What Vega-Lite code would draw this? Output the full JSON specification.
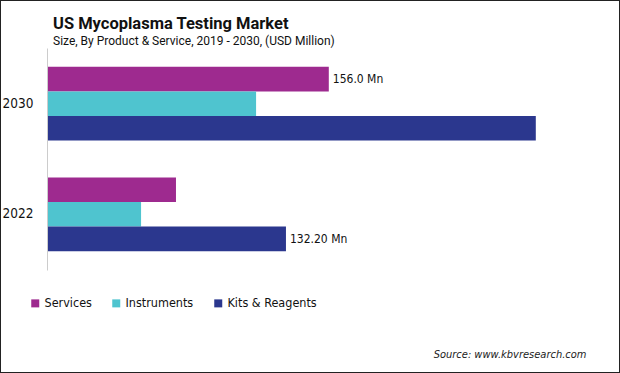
{
  "$schema": "https://vega.github.io/schema/vega-lite/v6.json",
  "width": 620,
  "height": 373,
  "padding": 0,
  "autosize": {"type": "none"},
  "background": "white",
  "config": {"view": {"stroke": "#222222", "strokeWidth": 2, "fill": "white"}},
  "title": {
    "text": "US Mycoplasma Testing Market",
    "subtitle": "Size, By Product & Service,  2019 - 2030, (USD Million)",
    "anchor": "start",
    "frame": "group",
    "orient": "top",
    "offset": -47,
    "dx": 53,
    "font": "Roboto",
    "fontSize": 16.5,
    "fontWeight": "bold",
    "color": "#111111",
    "subtitleFont": "Roboto",
    "subtitleFontSize": 12,
    "subtitleColor": "#111111",
    "subtitlePadding": 4
  },
  "data": {
    "values": [
      {"year": "2030", "product": "Services", "value": 156.0, "label": "156.0 Mn"},
      {"year": "2030", "product": "Instruments", "value": 115.6, "label": ""},
      {"year": "2030", "product": "Kits & Reagents", "value": 271.0, "label": ""},
      {"year": "2022", "product": "Services", "value": 71.1, "label": ""},
      {"year": "2022", "product": "Instruments", "value": 51.7, "label": ""},
      {"year": "2022", "product": "Kits & Reagents", "value": 132.2, "label": "132.20 Mn"}
    ]
  },
  "encoding": {
    "y": {
      "field": "year",
      "type": "nominal",
      "sort": ["2030", "2022"],
      "scale": {"range": [48, 270], "paddingInner": 0.333, "paddingOuter": 0.17},
      "axis": {
        "title": null,
        "offset": -47,
        "domainColor": "#cccccc",
        "domainWidth": 1,
        "ticks": false,
        "grid": false,
        "labelPadding": 14,
        "labelFont": "DejaVu Sans Condensed",
        "labelFontSize": 13.5,
        "labelColor": "#111111"
      }
    },
    "yOffset": {
      "field": "product",
      "type": "nominal",
      "sort": ["Services", "Instruments", "Kits & Reagents"],
      "scale": {"paddingInner": 0, "paddingOuter": 0}
    },
    "x": {
      "field": "value",
      "type": "quantitative",
      "scale": {"domain": [0, 300], "range": [48, 588]},
      "axis": {
        "orient": "bottom",
        "domain": false,
        "ticks": false,
        "labels": false,
        "grid": false,
        "title": "Source: www.kbvresearch.com",
        "titleAnchor": "end",
        "titleAlign": "right",
        "titleX": 586,
        "titleY": -16,
        "titleBaseline": "alphabetic",
        "titleFont": "DejaVu Sans Condensed",
        "titleFontStyle": "italic",
        "titleFontWeight": "normal",
        "titleFontSize": 11,
        "titleColor": "#222222"
      }
    }
  },
  "layer": [
    {
      "mark": {"type": "bar"},
      "encoding": {
        "color": {
          "field": "product",
          "type": "nominal",
          "sort": ["Services", "Instruments", "Kits & Reagents"],
          "scale": {
            "domain": ["Services", "Instruments", "Kits & Reagents"],
            "range": ["#9E2A8F", "#4FC4CF", "#2B378E"]
          },
          "legend": {
            "title": null,
            "orient": "none",
            "direction": "horizontal",
            "legendX": 29,
            "legendY": 297,
            "symbolType": "square",
            "symbolSize": 64,
            "symbolStrokeWidth": 0,
            "labelFont": "DejaVu Sans Condensed",
            "labelFontSize": 12.5,
            "labelColor": "#111111",
            "labelOffset": 3,
            "columnPadding": 18
          }
        }
      }
    },
    {
      "mark": {
        "type": "text",
        "align": "left",
        "baseline": "middle",
        "dx": 4,
        "font": "DejaVu Sans Condensed",
        "fontSize": 12,
        "color": "#111111"
      },
      "encoding": {"text": {"field": "label"}}
    }
  ]
}
